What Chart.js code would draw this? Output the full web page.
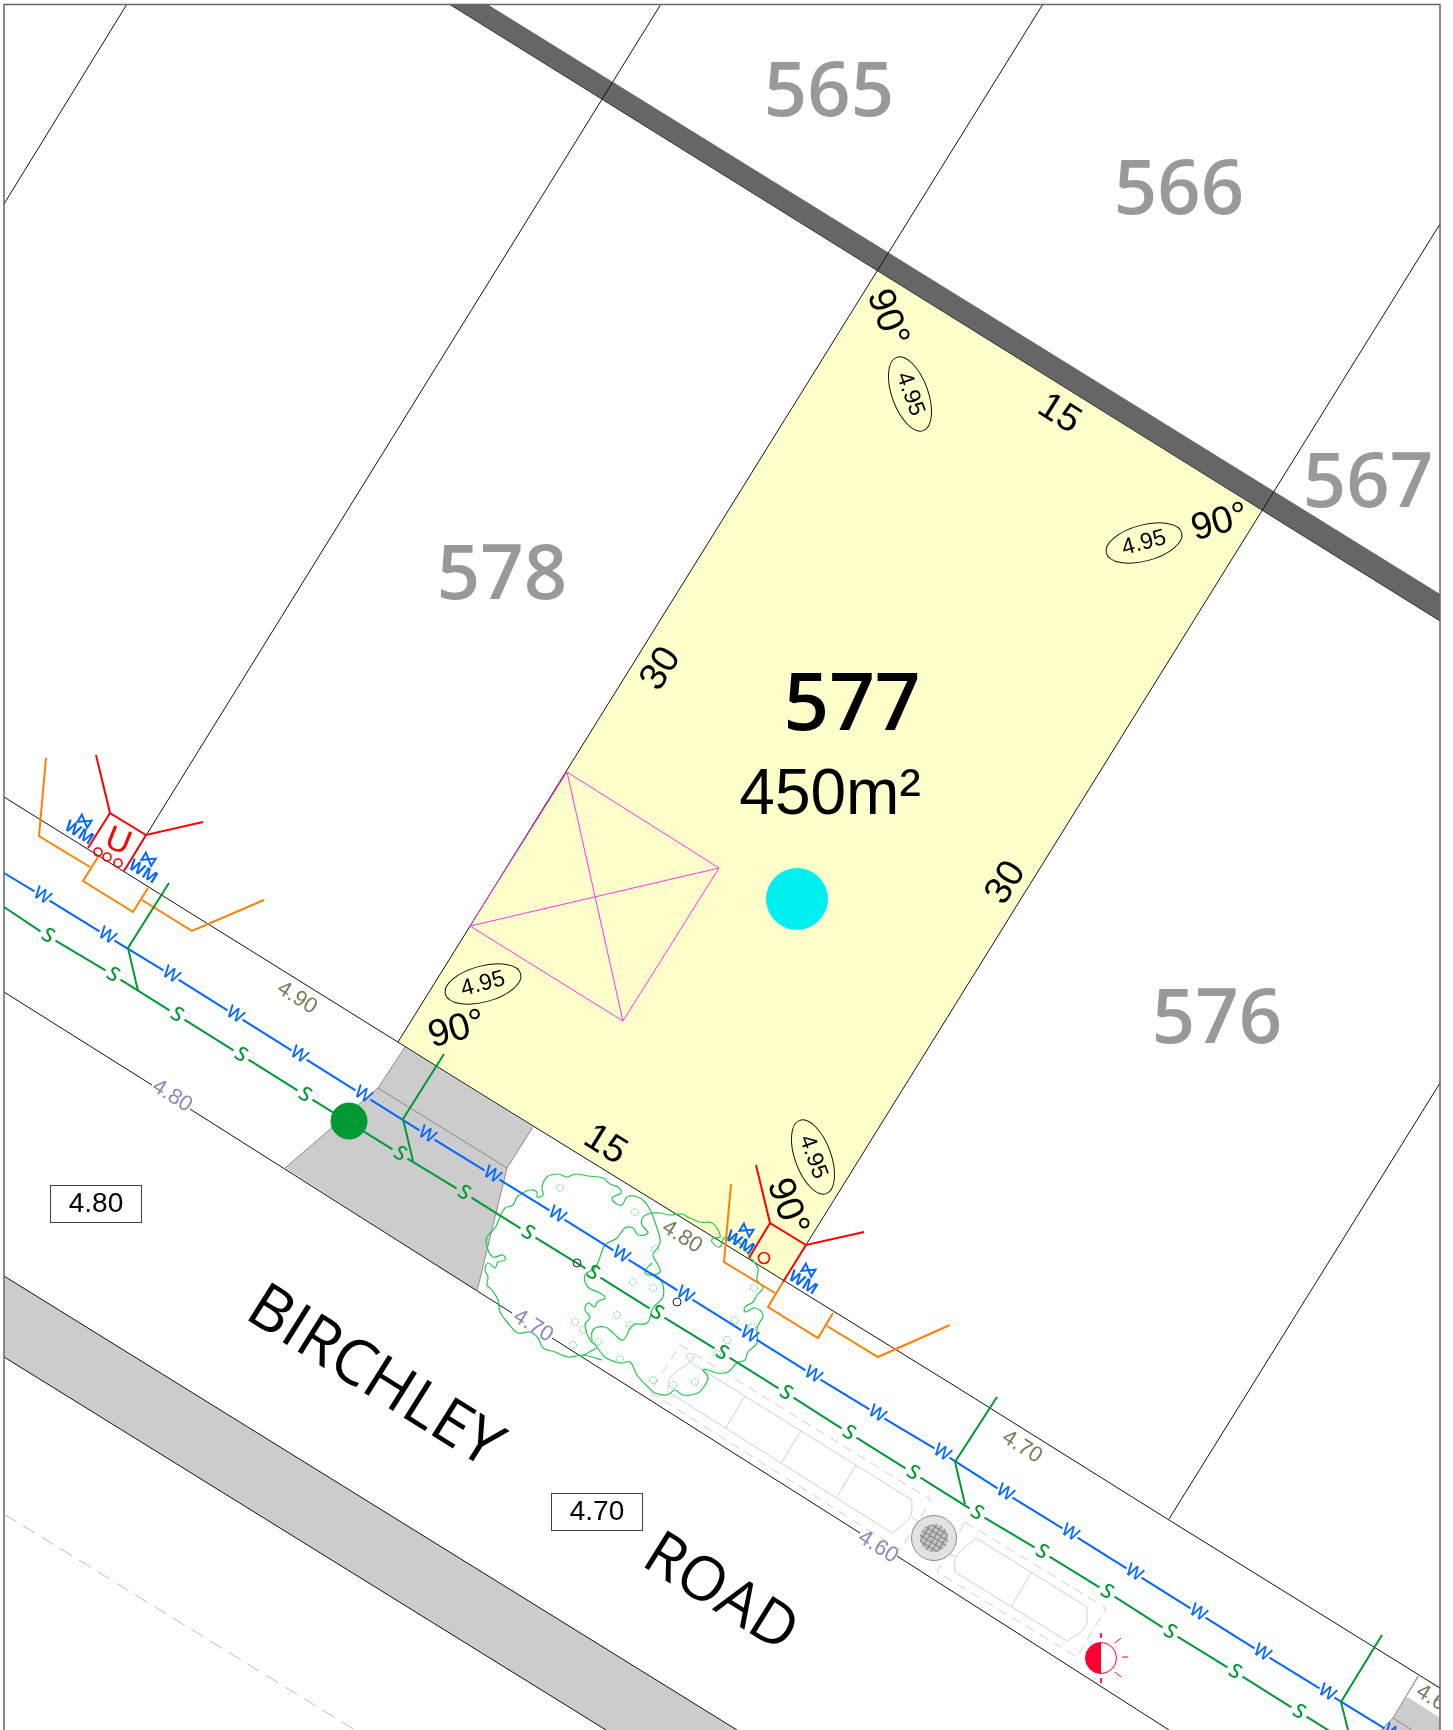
<!DOCTYPE html>
<html>
<head>
<meta charset="utf-8">
<title>Lot 577 Birchley Road</title>
<script src="https://cdn.jsdelivr.net/npm/chart.js@4/dist/chart.umd.js"></script>
<style>
  html, body { margin: 0; padding: 0; background: #fff; }
  canvas { display: block; }
</style>
</head>
<body>
<canvas id="plan" width="1453" height="1730"></canvas>
<script>
// plan outlines, all in plan units
var frame = [[4,1730],[4,4.5],[1440,4.5],[1440,1730]];
var lot577 = [[878,271],[1263,509],[783,1280],[398,1042]];
var wallBand = [[449,4],[487,4],[1440,594],[1440,621]];
var wallEdge = [[449,4],[1440,621]];
var roadStrip = [[4,1276],[737,1730],[606,1730],[4,1357]];
var driveway1 = [[405,1047],[378,1088],[285,1168],[477,1291],[507,1168],[533,1127]];
var driveway2 = [[1418,1676],[1393,1718],[1381,1730],[1440,1730],[1440,1688]];

// lot boundaries
var lotLines = [
  [[127,4],[4,204]],
  [[661,4],[124,871]],
  [[1043,4],[398,1042]],
  [[1440,224],[783,1282]],
  [[1440,1083],[1169,1519]],
  [[4,797],[491,1100],[950,1383],[1169,1520],[1440,1688]],
  [[4,992],[152,1085]],
  [[190,1109],[512,1313]],
  [[552,1338],[860,1533]],
  [[897,1556],[1169,1730]],
  [[4,1276],[737,1730]],
  [[4,1357],[606,1730]]
];
var driveEdges = [
  [[405,1047],[378,1088],[285,1168]],
  [[533,1127],[507,1168],[477,1291]],
  [[378,1088],[507,1168]],
  [[1418,1676],[1393,1718],[1381,1730]],
  [[1393,1718],[1412,1730]]
];
var farDash = [[4,1514],[355,1730]];

// services
var waterEnds = [[4,873],[1412,1745]];
var waterMarkX = [42,107,171,235,299,363,427,492,557,621,685,749,813,877,942,1005,1070,1134,1198,1262,1327,1392];
var waterMarkY = [896,936,975,1015,1055,1095,1135,1175,1215,1255,1295,1335,1375,1414,1453,1493,1533,1573,1613,1653,1693,1733];
var sewerEnds = [[4,907],[1387,1767]];
var sewerMarkX = [48,113,177,241,305,400,464,528,593,657,722,786,849,913,977,1042,1107,1170,1235,1299,1363];
var sewerMarkY = [936,975,1015,1055,1095,1154,1193,1233,1273,1313,1353,1393,1433,1473,1513,1552,1592,1632,1672,1712,1752];
var sewerBranches = [
  [[169,883],[128,948],[138,991]],
  [[444,1054],[403,1119],[413,1161]],
  [[997,1397],[955,1462],[965,1504]],
  [[1382,1635],[1341,1702],[1348,1730]]
];
var powerLines = [
  [[96,755],[110,813],[146,835],[203,822]],
  [[110,813],[88,848]],
  [[146,835],[124,871]],
  [[756,1165],[770,1223],[806,1245],[864,1232]],
  [[770,1223],[749,1258]],
  [[806,1245],[783,1282]]
];
var powerRingX = [98,107,118,764];
var powerRingY = [852,857,863,1258];
var telecomLines = [
  [[46,758],[39,836],[90,867]],
  [[98,857],[83,881],[133,912],[148,888]],
  [[142,900],[192,931],[264,900]],
  [[731,1184],[724,1262],[775,1293]],
  [[783,1282],[768,1307],[818,1338],[833,1313]],
  [[827,1326],[878,1357],[950,1325]]
];
var envelope = [[567,772],[719,868],[623,1021],[470,926],[567,772]];
var envelopeCross = [
  [[567,772],[623,1021]],
  [[719,868],[470,926]]
];

// parking bays
var bayDashed = [
  [[680,1345],[931,1500],[900,1550],[650,1392],[680,1345]],
  [[965,1522],[1106,1608],[1077,1657],[937,1572],[965,1522]]
];
var baySolid = [
  [[690,1362],[912,1500]],
  [[670,1393],[892,1533]],
  [[912,1500],[910,1517],[892,1533]],
  [[690,1362],[670,1378],[668,1393]],
  [[745,1396],[725,1429]],
  [[801,1431],[781,1463]],
  [[856,1465],[837,1497]],
  [[976,1538],[1087,1607]],
  [[955,1572],[1067,1641]],
  [[976,1538],[956,1557],[955,1572]],
  [[1087,1607],[1085,1627],[1067,1641]],
  [[1031,1573],[1011,1607]],
  [[912,1517],[923,1525]],
  [[948,1553],[956,1557]]
];

// tree canopies
var canopyA = [[602,1360],[592,1357],[582,1355],[568,1357],[555,1352],[543,1348],[538,1338],[530,1332],[518,1333],[508,1323],[500,1312],[498,1300],[492,1290],[487,1285],[488,1277],[485,1270],[488,1263],[495,1268],[498,1262],[505,1260],[503,1255],[493,1257],[487,1247],[487,1237],[495,1228],[500,1217],[505,1208],[513,1205],[517,1197],[523,1193],[530,1190],[537,1192],[537,1197],[543,1195],[542,1187],[547,1177],[558,1174],[567,1177],[575,1174],[588,1176],[603,1178],[610,1184],[618,1187],[621,1193],[615,1196],[612,1198],[615,1203],[622,1205],[627,1197],[635,1196],[645,1202],[651,1212],[657,1228],[660,1243],[653,1255],[658,1265],[660,1272],[648,1275],[645,1271],[652,1263]];
var canopyB = [[651,1213],[643,1217],[642,1225],[648,1233],[638,1235],[633,1228],[625,1228],[617,1238],[605,1245],[600,1257],[595,1268],[585,1275],[588,1287],[600,1293],[605,1298],[597,1302],[595,1307],[588,1303],[585,1310],[590,1317],[585,1325],[590,1340],[597,1347],[593,1350],[580,1357]];
var canopyC = [[650,1273],[661,1280],[663,1297],[653,1308],[647,1323],[633,1325],[623,1340],[613,1333],[605,1327],[593,1330],[592,1343]];
var canopyD = [[651,1213],[660,1213],[670,1215],[682,1214],[690,1218],[700,1222],[712,1223],[718,1230],[720,1237],[713,1238],[712,1242],[720,1247],[724,1238],[730,1238],[740,1243],[750,1257],[758,1268],[757,1280],[763,1288],[757,1295],[753,1302],[745,1307],[745,1312],[755,1308],[763,1315],[757,1328],[757,1343],[748,1352],[745,1360],[737,1363],[728,1372],[717,1373],[708,1370],[703,1370],[708,1377],[705,1385],[698,1393],[683,1395],[675,1390],[667,1395],[655,1393],[648,1387],[637,1375],[630,1362],[620,1363],[605,1357],[597,1347]];
var leafX = [560,635,655,633,653,617,575,583,598,573,620,630,653,673,695,690,735,727,717,752,754];
var leafY = [1188,1212,1249,1282,1288,1315,1322,1330,1342,1345,1359,1325,1380,1385,1382,1357,1320,1340,1354,1327,1288];
var treeCentreX = [577,677];
var treeCentreY = [1263,1302];
var lampRays = [
  [[1101,1633],[1101,1638]],
  [[1101,1678],[1101,1683]],
  [[1122,1657],[1128,1657]],
  [[1115,1643],[1121,1638]],
  [[1115,1672],[1121,1677]]
];

// point features
var survey = [[797,899]];
var hydrant = [[349,1121]];
var pit = [934,1538];
var lamp = [1101,1658];

// texts and where they sit
var lotNumbers = ['565','566','567','578','576'];
var lotNumberPlaces = [[829,94],[1179,192],[1368,485],[502,577],[1217,1021]];
var mainLot = ['577','450m²'];
var mainLotPlaces = [[852,707],[830,796]];
var dimTexts = ['90°','15','90°','90°','90°','30','30','15'];
var dimPlaces = [[887,318],[1059,414],[1220,523],[457,1030],[787,1207],[661,669],[1006,883],[605,1145]];
var dimAngles = [70,32,-15,-15,70,-58,-58,32];
var padLevels = ['4.95','4.95','4.95','4.95'];
var padPlaces = [[910,394],[1144,543],[483,984],[813,1157]];
var padAngles = [70,-15,-15,70];
var frontLevels = ['4.90','4.80','4.70','4.60'];
var frontPlaces = [[297,998],[682,1237],[1022,1447],[1436,1701]];
var kerbLevels = ['4.80','4.70','4.60'];
var kerbPlaces = [[172,1096],[533,1326],[878,1547]];
var roadLevels = ['4.80','4.70'];
var roadLevelPlaces = [[96,1204],[597,1512]];
var roadWords = ['BIRCHLEY','ROAD'];
var roadWordPlaces = [[374,1378],[720,1594]];
var meterPlaces = [[79,833],[143,872],[740,1243],[803,1283]];
var valvePlaces = [[84,822],[148,860],[746,1231],[808,1271]];

function pts(list) {
  return list.map(function (p) { return { x: p[0], y: p[1] }; });
}
function path(list, color, width, extra) {
  return Object.assign({ data: pts(list), borderColor: color, borderWidth: width, backgroundColor: 'transparent', showLine: true, pointRadius: 0 }, extra || {});
}
function shape(list, color) {
  return { data: pts(list.concat([list[0]])), borderColor: color, borderWidth: 0, backgroundColor: color, showLine: true, pointRadius: 0, fill: 'shape' };
}
function dots(list, color, radius) {
  return { data: pts(list), backgroundColor: color, borderColor: color, pointRadius: radius, showLine: false };
}
// line that stops either side of its letter marks
function brokenLine(ends, xs, ys, dx, dy, color) {
  var out = [{ x: ends[0][0], y: ends[0][1] }];
  xs.forEach(function (x, i) {
    out.push({ x: x - dx, y: ys[i] - dy }, { x: NaN, y: NaN }, { x: x + dx, y: ys[i] + dy });
  });
  out.push({ x: ends[1][0], y: ends[1][1] });
  return { data: out, borderColor: color, borderWidth: 2, showLine: true, pointRadius: 0, spanGaps: false };
}

var datasets = [];
datasets.push(shape(lot577, '#FFFFCC'));
datasets.push(shape(driveway1, '#CCCCCC'));
datasets.push(shape(driveway2, '#CCCCCC'));
datasets.push(shape(roadStrip, '#CCCCCC'));
datasets.push(shape(wallBand, '#666666'));
datasets.push(path(wallEdge, '#333333', 1));
lotLines.forEach(function (l) { datasets.push(path(l, '#111111', 1)); });
datasets.push(path(frame, '#666666', 1.5));
driveEdges.forEach(function (l) { datasets.push(path(l, '#8A8A8A', 1)); });
datasets.push(path(farDash, '#BBBBBB', 1, { borderDash: [14, 8] }));
bayDashed.forEach(function (l) { datasets.push(path(l, '#CFCFCF', 1, { borderDash: [10, 6] })); });
baySolid.forEach(function (l) { datasets.push(path(l, '#CFCFCF', 1, { tension: l.length > 2 ? 0.4 : 0 })); });
[canopyA, canopyB, canopyC, canopyD].forEach(function (l) {
  datasets.push(path(l, '#22C84A', 1.2, { tension: 0.4 }));
});
envelopeCross.forEach(function (l) { datasets.push(path(l, '#FF33EE', 1)); });
datasets.push(path(envelope, '#FF33EE', 1));
telecomLines.forEach(function (l) { datasets.push(path(l, '#FF8000', 2)); });
powerLines.forEach(function (l) { datasets.push(path(l, '#FF0000', 2)); });
datasets.push(brokenLine(waterEnds, waterMarkX, waterMarkY, 7.5, 4.7, '#0066FF'));
datasets.push(brokenLine(sewerEnds, sewerMarkX, sewerMarkY, 7.5, 4.7, '#009933'));
sewerBranches.forEach(function (l) { datasets.push(path(l, '#009933', 2)); });
lampRays.forEach(function (l) { datasets.push(path(l, '#FF0033', 1)); });
datasets.push(dots(survey, '#00F0F0', 30.5));
datasets.push(dots(hydrant, '#009933', 18));
// first dataset is drawn lowest
datasets.forEach(function (d, i) { d.order = -i; });

var SANS = '"Liberation Sans", Arial, sans-serif';
var OPEN = '"Open Sans", "Noto Sans", sans-serif';

var planMarks = {
  id: 'planMarks',
  afterDatasetsDraw: function (chart) {
    var ctx = chart.ctx;
    var sx = chart.scales.x, sy = chart.scales.y;
    function px(p) { return [sx.getPixelForValue(p[0]), sy.getPixelForValue(p[1])]; }
    function label(txt, place, deg, font, color) {
      var p = px(place);
      ctx.save();
      ctx.translate(p[0], p[1]);
      ctx.rotate(deg * Math.PI / 180);
      ctx.font = font;
      ctx.fillStyle = color;
      ctx.textAlign = 'center';
      ctx.textBaseline = 'middle';
      ctx.fillText(txt, 0, 0);
      ctx.restore();
    }
    function ring(place, r, color, width, dash) {
      var p = px(place);
      ctx.save();
      ctx.beginPath();
      ctx.arc(p[0], p[1], r, 0, Math.PI * 2);
      ctx.lineWidth = width;
      ctx.strokeStyle = color;
      if (dash) ctx.setLineDash(dash);
      ctx.stroke();
      ctx.restore();
    }

    leafX.forEach(function (x, i) { ring([x, leafY[i]], 3.5, '#3CD062', 1, [1.5, 1.5]); });
    treeCentreX.forEach(function (x, i) { ring([x, treeCentreY[i]], 4, '#222222', 1); });
    powerRingX.forEach(function (x, i) { ring([x, powerRingY[i]], i === 3 ? 5.5 : 4, '#FF0000', 1.6); });

    // stormwater pit
    var c = px(pit);
    ctx.save();
    ctx.beginPath();
    ctx.arc(c[0], c[1], 22.5, 0, Math.PI * 2);
    ctx.fillStyle = '#E2E2E2';
    ctx.strokeStyle = '#8A8A8A';
    ctx.lineWidth = 1;
    ctx.fill();
    ctx.stroke();
    ctx.beginPath();
    ctx.arc(c[0], c[1], 14, 0, Math.PI * 2);
    ctx.fillStyle = '#C4C4C4';
    ctx.fill();
    ctx.clip();
    ctx.translate(c[0], c[1]);
    ctx.rotate(32 * Math.PI / 180);
    ctx.strokeStyle = '#808080';
    ctx.beginPath();
    for (var g = -15; g <= 15; g += 5) {
      ctx.moveTo(g, -15); ctx.lineTo(g, 15);
      ctx.moveTo(-15, g); ctx.lineTo(15, g);
    }
    ctx.stroke();
    ctx.restore();

    // street light
    var l = px(lamp);
    ctx.save();
    ctx.beginPath();
    ctx.arc(l[0], l[1], 15.5, 0, Math.PI * 2);
    ctx.fillStyle = '#FFFFFF';
    ctx.fill();
    ctx.strokeStyle = '#FF0033';
    ctx.lineWidth = 1;
    ctx.stroke();
    ctx.beginPath();
    ctx.arc(l[0], l[1], 15.5, Math.PI / 2, Math.PI * 1.5);
    ctx.closePath();
    ctx.fillStyle = '#FF0033';
    ctx.fill();
    ctx.restore();

    // water and sewer letters
    waterMarkX.forEach(function (x, i) { label('W', [x, waterMarkY[i]], 32, '500 18px "Noto Sans"', '#0066FF'); });
    sewerMarkX.forEach(function (x, i) { label('S', [x, sewerMarkY[i]], 32, '500 20px "Noto Sans"', '#009933'); });

    // meters
    meterPlaces.forEach(function (p) { label('WM', p, 32, 'bold 16px "Noto Sans"', '#0066FF'); });
    valvePlaces.forEach(function (p) { label('⋈', p, 32, 'bold 17px "DejaVu Sans"', '#0066FF'); });
    label('U', [118, 842], 22, '34px ' + SANS, '#FF0000');

    // levels along the frontage and kerb
    frontLevels.forEach(function (t, i) {
      if (i === 3) {
        // last one is cut by the frame and sits on a white patch
        var f = px(frontPlaces[i]);
        ctx.save();
        ctx.beginPath();
        ctx.rect(0, 0, sx.getPixelForValue(1439), chart.height);
        ctx.clip();
        ctx.translate(f[0], f[1]);
        ctx.rotate(32 * Math.PI / 180);
        ctx.fillStyle = '#FFFFFF';
        ctx.fillRect(-27, -12, 54, 24);
        ctx.font = '22px ' + SANS;
        ctx.fillStyle = '#7C7C5C';
        ctx.textAlign = 'center';
        ctx.textBaseline = 'middle';
        ctx.fillText(t, 0, 0);
        ctx.restore();
      } else {
        label(t, frontPlaces[i], 32, '22px ' + SANS, '#7C7C5C');
      }
    });
    kerbLevels.forEach(function (t, i) { label(t, kerbPlaces[i], 32, '22px ' + SANS, '#8A8ABD'); });

    // pad levels in their ovals
    padLevels.forEach(function (t, i) {
      var p = px(padPlaces[i]);
      ctx.save();
      ctx.translate(p[0], p[1]);
      ctx.rotate(padAngles[i] * Math.PI / 180);
      ctx.beginPath();
      ctx.ellipse(0, 0, 39, 18, 0, 0, Math.PI * 2);
      ctx.strokeStyle = '#111111';
      ctx.lineWidth = 1;
      ctx.stroke();
      ctx.restore();
      label(t, padPlaces[i], padAngles[i], '23px ' + SANS, '#000000');
    });

    dimTexts.forEach(function (t, i) { label(t, dimPlaces[i], dimAngles[i], '38px ' + SANS, '#000000'); });

    // boxed road levels
    roadLevels.forEach(function (t, i) {
      var p = px(roadLevelPlaces[i]);
      ctx.save();
      ctx.fillStyle = '#FFFFFF';
      ctx.strokeStyle = '#444444';
      ctx.lineWidth = 1;
      ctx.fillRect(p[0] - 46, p[1] - 18, 92, 36);
      ctx.strokeRect(p[0] - 45.5, p[1] - 18.5, 91, 37);
      ctx.restore();
      label(t, roadLevelPlaces[i], 0, '28px ' + SANS, '#000000');
    });

    lotNumbers.forEach(function (t, i) { label(t, lotNumberPlaces[i], 0, '600 76px ' + OPEN, '#999999'); });
    label(mainLot[0], mainLotPlaces[0], 0, '600 80px ' + OPEN, '#000000');
    label(mainLot[1], mainLotPlaces[1], 0, '64px ' + SANS, '#000000');
    label(roadWords[0], roadWordPlaces[0], 32, '63px ' + OPEN, '#000000');
    label(roadWords[1], roadWordPlaces[1], 32, '61px ' + OPEN, '#000000');
  }
};

new Chart(document.getElementById('plan').getContext('2d'), {
  type: 'scatter',
  data: { datasets: datasets },
  options: {
    responsive: false,
    animation: false,
    events: [],
    layout: { padding: 0, autoPadding: false },
    plugins: { legend: { display: false }, tooltip: { enabled: false } },
    scales: {
      x: { type: 'linear', min: 0, max: 1453, display: false },
      y: { type: 'linear', min: 0, max: 1730, reverse: true, display: false }
    }
  },
  plugins: [planMarks]
});
</script>
</body>
</html>
